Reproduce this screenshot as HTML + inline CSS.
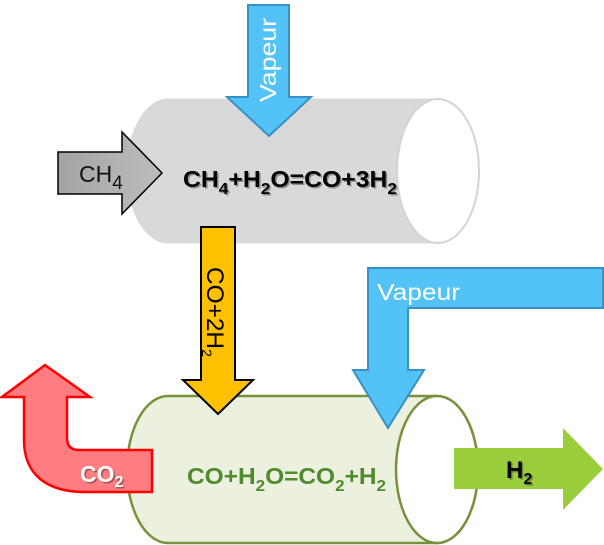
<!DOCTYPE html>
<html>
<head>
<meta charset="utf-8">
<style>
  html,body{margin:0;padding:0;background:#ffffff;}
  svg{display:block;}
  text{font-family:"Liberation Sans",sans-serif;}
</style>
</head>
<body>
<svg width="604" height="545" viewBox="0 0 604 545" xmlns="http://www.w3.org/2000/svg">
  <defs>
    <linearGradient id="gArrow" x1="0" y1="0" x2="1" y2="0">
      <stop offset="0" stop-color="#a3a3a3"/>
      <stop offset="1" stop-color="#bdbdbd"/>
    </linearGradient>
  </defs>

  <!-- Top gray cylinder -->
  <path d="M168,99 H438 A41,72 0 0 1 438,243 H168 A41,72 0 0 1 168,99 Z" fill="#d9d9d9" stroke="#d9d9d9" stroke-width="1"/>
  <ellipse cx="438" cy="171" rx="41" ry="72" fill="#ffffff" stroke="#d4d4d4" stroke-width="2"/>

  <!-- Top Vapeur arrow -->
  <path d="M248,5 H289 V97 H311 L269,136 L227,97 H248 Z" fill="#53c3f7" stroke="#3a8fc3" stroke-width="2"/>
  <text transform="translate(276,102) rotate(-90)" font-size="23" fill="#ffffff" textLength="84" lengthAdjust="spacingAndGlyphs">Vapeur</text>

  <!-- CH4 arrow -->
  <path d="M58,152 H122 V132 L162,173 L122,214 V194 H58 Z" fill="url(#gArrow)" stroke="#000000" stroke-width="1.5"/>
  <text x="79" y="182" font-size="23" fill="#111111">CH<tspan font-size="19" dy="7">4</tspan></text>

  <!-- Top equation (shadow + text) -->
  <text x="184.5" y="188.5" font-size="23" font-weight="bold" fill="#8c8c8c" textLength="214" lengthAdjust="spacingAndGlyphs">CH<tspan font-size="16" dy="7">4</tspan><tspan dy="-7">+H</tspan><tspan font-size="16" dy="7">2</tspan><tspan dy="-7">O=CO+3H</tspan><tspan font-size="16" dy="7">2</tspan></text>
  <text x="183" y="187" font-size="23" font-weight="bold" fill="#000000" textLength="214" lengthAdjust="spacingAndGlyphs">CH<tspan font-size="16" dy="7">4</tspan><tspan dy="-7">+H</tspan><tspan font-size="16" dy="7">2</tspan><tspan dy="-7">O=CO+3H</tspan><tspan font-size="16" dy="7">2</tspan></text>

  <!-- Bottom green cylinder -->
  <path d="M168,396 H437 A41,73.5 0 0 1 437,543 H168 A41,73.5 0 0 1 168,396 Z" fill="#ebf1de" stroke="#76923c" stroke-width="2.5"/>
  <ellipse cx="437" cy="469.5" rx="41" ry="73.5" fill="#ffffff" stroke="#76923c" stroke-width="2.5"/>

  <!-- Green equation -->
  <text x="187" y="484" font-size="23" font-weight="bold" fill="#4f8a2b" textLength="199" lengthAdjust="spacingAndGlyphs">CO+H<tspan font-size="16" dy="7">2</tspan><tspan dy="-7">O=CO</tspan><tspan font-size="16" dy="7">2</tspan><tspan dy="-7">+H</tspan><tspan font-size="16" dy="7">2</tspan></text>

  <!-- Yellow arrow -->
  <path d="M201,227 H235 V380 H253 L218,414 L183,380 H201 Z" fill="#ffc000" stroke="#000000" stroke-width="2"/>
  <text transform="translate(207,267) rotate(90)" font-size="24" fill="#000000" textLength="90" lengthAdjust="spacingAndGlyphs">CO+2H<tspan font-size="14" dy="5">2</tspan></text>

  <!-- Blue L arrow -->
  <path d="M603,268 H368 V370 H353 L388,428 L424,370 H408 V308 H603 Z" fill="#53c3f7" stroke="#3a8fc3" stroke-width="2"/>
  <text x="377" y="300" font-size="23" fill="#ffffff" textLength="83" lengthAdjust="spacingAndGlyphs">Vapeur</text>

  <!-- Red U-turn arrow -->
  <path d="M152,450 H79 Q67,450 67,438 V397 H90 L45,365 L2,397 H24 V440 C24,474 46,492 85,492 H152 Z" fill="#ff7c80" stroke="#ff0000" stroke-width="2.5" stroke-linejoin="miter"/>
  <text x="81.5" y="483.5" font-size="23" font-weight="bold" fill="#6a3a3a" opacity="0.6">CO<tspan font-size="16" dy="5">2</tspan></text>
  <text x="80" y="482" font-size="23" font-weight="bold" fill="#ffffff">CO<tspan font-size="16" dy="5">2</tspan></text>

  <!-- H2 arrow -->
  <path d="M454,448 H563 V428 L603,469 L563,510 V489 H454 Z" fill="#9acd3c"/>
  <text x="507.5" y="479.5" font-size="24" font-weight="bold" fill="#4a5a30" opacity="0.6">H<tspan font-size="16" dy="6">2</tspan></text>
  <text x="506" y="478" font-size="24" font-weight="bold" fill="#000000">H<tspan font-size="16" dy="6">2</tspan></text>
</svg>
</body>
</html>
